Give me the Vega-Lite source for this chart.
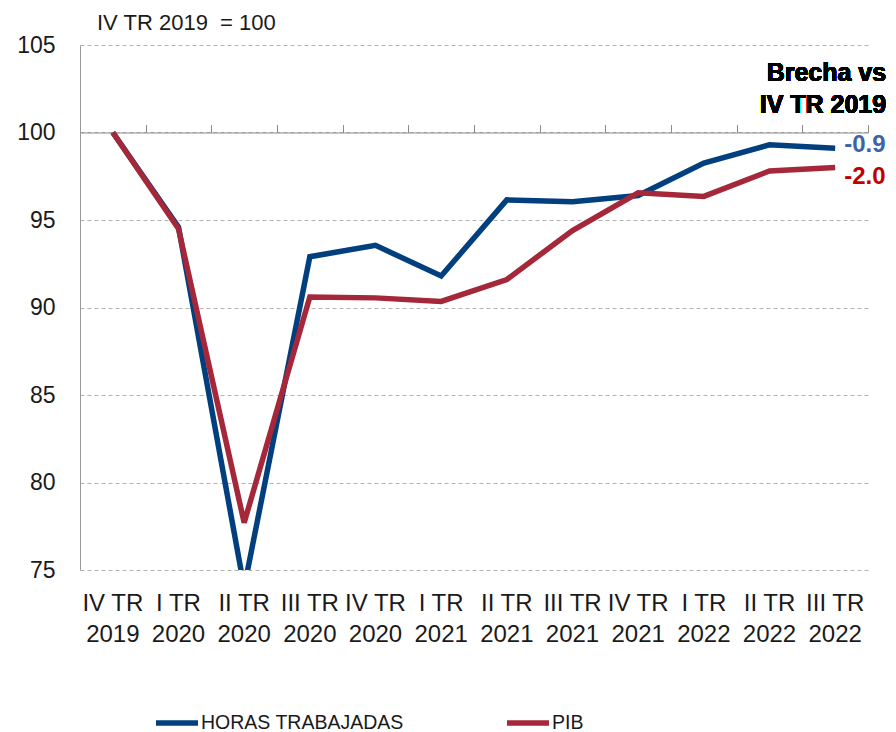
{
  "$schema": "https://vega.github.io/schema/vega-lite/v6.json",
  "width": 788,
  "height": 525,
  "autosize": {"type": "none"},
  "padding": {"left": 80, "top": 45, "right": 28, "bottom": 162},
  "background": "white",
  "config": {"view": {"stroke": null}, "font": "Liberation Sans"},
  "title": {"text": "IV TR 2019 \u00a0= 100", "anchor": "start", "frame": "group", "dx": 17, "offset": -1, "fontSize": 22, "fontWeight": "normal", "color": "#1a1a1a", "font": "Liberation Sans"},
  "data": {
    "values": [
      {"periodo": "IV TR 2019", "serie": "HORAS TRABAJADAS", "valor": 100},
      {"periodo": "I TR 2020", "serie": "HORAS TRABAJADAS", "valor": 94.6},
      {"periodo": "II TR 2020", "serie": "HORAS TRABAJADAS", "valor": 74.0},
      {"periodo": "III TR 2020", "serie": "HORAS TRABAJADAS", "valor": 92.9},
      {"periodo": "IV TR 2020", "serie": "HORAS TRABAJADAS", "valor": 93.55},
      {"periodo": "I TR 2021", "serie": "HORAS TRABAJADAS", "valor": 91.8},
      {"periodo": "II TR 2021", "serie": "HORAS TRABAJADAS", "valor": 96.15},
      {"periodo": "III TR 2021", "serie": "HORAS TRABAJADAS", "valor": 96.05},
      {"periodo": "IV TR 2021", "serie": "HORAS TRABAJADAS", "valor": 96.4},
      {"periodo": "I TR 2022", "serie": "HORAS TRABAJADAS", "valor": 98.25},
      {"periodo": "II TR 2022", "serie": "HORAS TRABAJADAS", "valor": 99.3},
      {"periodo": "III TR 2022", "serie": "HORAS TRABAJADAS", "valor": 99.1},
      {"periodo": "IV TR 2019", "serie": "PIB", "valor": 100},
      {"periodo": "I TR 2020", "serie": "PIB", "valor": 94.5},
      {"periodo": "II TR 2020", "serie": "PIB", "valor": 77.7},
      {"periodo": "III TR 2020", "serie": "PIB", "valor": 90.6},
      {"periodo": "IV TR 2020", "serie": "PIB", "valor": 90.55},
      {"periodo": "I TR 2021", "serie": "PIB", "valor": 90.35},
      {"periodo": "II TR 2021", "serie": "PIB", "valor": 91.6},
      {"periodo": "III TR 2021", "serie": "PIB", "valor": 94.4},
      {"periodo": "IV TR 2021", "serie": "PIB", "valor": 96.55},
      {"periodo": "I TR 2022", "serie": "PIB", "valor": 96.35},
      {"periodo": "II TR 2022", "serie": "PIB", "valor": 97.8},
      {"periodo": "III TR 2022", "serie": "PIB", "valor": 98.0}
    ]
  },
  "layer": [
    {
      "mark": {"type": "line", "strokeWidth": 5.5, "clip": true},
      "encoding": {
        "x": {
          "field": "periodo", "type": "ordinal", "bandPosition": 0.5,
          "scale": {"type": "band", "paddingInner": 0, "paddingOuter": 0,
            "domain": ["IV TR 2019","I TR 2020","II TR 2020","III TR 2020","IV TR 2020","I TR 2021","II TR 2021","III TR 2021","IV TR 2021","I TR 2022","II TR 2022","III TR 2022"]},
          "axis": {"orient": "bottom", "title": null, "domain": false, "ticks": false, "grid": false, "labelAngle": 0, "labelFontSize": 24, "labelPadding": 21, "labelLineHeight": 31, "labelBaseline": "top", "labelColor": "#1a1a1a", "labelExpr": "[slice(datum.label, 0, -5), slice(datum.label, -4)]"}
        },
        "y": {
          "field": "valor", "type": "quantitative",
          "scale": {"domain": [75, 105], "nice": false, "zero": false},
          "axis": {"values": [75, 80, 85, 90, 95, 100, 105], "title": null, "ticks": false, "labelFontSize": 23, "labelPadding": 25, "labelColor": "#1a1a1a", "domainColor": "#999999", "gridColor": "#b3b3b3", "gridDash": [4, 3]}
        },
        "color": {
          "field": "serie", "type": "nominal",
          "scale": {"domain": ["HORAS TRABAJADAS", "PIB"], "range": ["#023F7E", "#A4273A"]},
          "legend": {"orient": "none", "legendX": 73, "legendY": 654, "direction": "horizontal", "title": null, "symbolType": "stroke", "symbolSize": 1764, "symbolStrokeWidth": 5.5, "labelFontSize": 19.5, "labelOffset": 0, "columnPadding": 92, "labelColor": "#1a1a1a", "labelLimit": 400}
        }
      }
    },
    {
      "transform": [{"filter": "datum.periodo === 'III TR 2022' && datum.serie === 'HORAS TRABAJADAS'"}],
      "mark": {"type": "text", "text": "-0.9", "align": "left", "baseline": "middle", "dx": 9, "dy": -3, "fontSize": 24, "fontWeight": "bold", "color": "#3C64A8"},
      "encoding": {
        "x": {"field": "periodo", "type": "ordinal", "axis": {"orient": "top", "offset": -87.5, "labels": false, "title": null, "grid": false, "domainColor": "#8c8c8c", "tickColor": "#8c8c8c", "tickSize": 8, "tickBand": "extent"}},
        "y": {"field": "valor", "type": "quantitative"}
      }
    },
    {
      "transform": [{"filter": "datum.periodo === 'III TR 2022' && datum.serie === 'PIB'"}],
      "mark": {"type": "text", "text": "-2.0", "align": "left", "baseline": "middle", "dx": 9, "dy": 9, "fontSize": 24, "fontWeight": "bold", "color": "#C00000"},
      "encoding": {
        "x": {"field": "periodo", "type": "ordinal", "axis": null},
        "y": {"field": "valor", "type": "quantitative"}
      }
    },
    {
      "mark": {"type": "text", "text": ["Brecha vs", "IV TR 2019"], "align": "right", "baseline": "alphabetic", "dx": 51, "lineHeight": 32, "fontSize": 25, "fontWeight": "bold", "color": "#000000"},
      "encoding": {
        "x": {"datum": "III TR 2022", "type": "ordinal", "axis": null},
        "y": {"datum": 102.94, "type": "quantitative"}
      }
    }
  ]
}
